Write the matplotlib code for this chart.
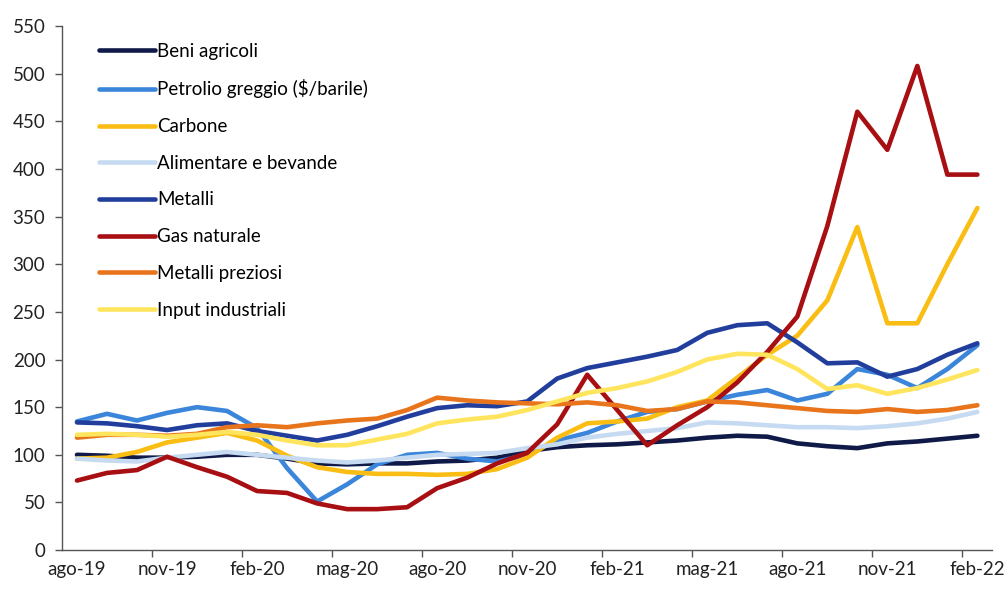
import matplotlib.pyplot as plt

plt.rcParams['font.family'] = ['Lato', 'DejaVu Sans']

# monthly categories ago-19 .. feb-22
months = ['ago-19', 'set-19', 'ott-19', 'nov-19', 'dic-19', 'gen-20', 'feb-20', 'mar-20',
          'apr-20', 'mag-20', 'giu-20', 'lug-20', 'ago-20', 'set-20', 'ott-20', 'nov-20',
          'dic-20', 'gen-21', 'feb-21', 'mar-21', 'apr-21', 'mag-21', 'giu-21', 'lug-21',
          'ago-21', 'set-21', 'ott-21', 'nov-21', 'dic-21', 'gen-22', 'feb-22']

beni_agricoli = [100, 99, 97, 97, 98, 100, 100, 96, 91, 90, 91, 91, 93, 94, 97, 104,
                 108, 110, 111, 113, 115, 118, 120, 119, 112, 109, 107, 112, 114, 117, 120]
petrolio = [135, 143, 136, 144, 150, 146, 128, 86, 51, 69, 90, 100, 102, 96, 93, 100,
            115, 123, 135, 145, 148, 156, 163, 168, 157, 164, 190, 184, 170, 190, 215]
carbone = [96, 97, 103, 113, 118, 123, 115, 99, 87, 82, 80, 80, 79, 80, 85, 97,
           118, 133, 135, 138, 150, 157, 181, 205, 225, 262, 339, 238, 238, 300, 359]
alimentare = [96, 94, 93, 97, 100, 103, 100, 97, 94, 92, 94, 97, 100, 101, 102, 107,
              111, 118, 122, 125, 128, 134, 133, 131, 129, 129, 128, 130, 133, 138, 145]
metalli = [134, 133, 130, 126, 131, 133, 125, 120, 115, 121, 130, 140, 149, 152, 151, 156,
           180, 191, 197, 203, 210, 228, 236, 238, 218, 196, 197, 182, 190, 205, 217]
gas = [73, 81, 84, 98, 87, 77, 62, 60, 49, 43, 43, 45, 65, 76, 91, 102,
       132, 184, 147, 110, 131, 150, 176, 208, 245, 340, 460, 420, 508, 394, 394]
metalli_preziosi = [118, 121, 121, 120, 122, 129, 131, 129, 133, 136, 138, 147, 160, 157, 155, 154,
                    153, 155, 152, 146, 148, 156, 155, 152, 149, 146, 145, 148, 145, 147, 152]
input_industriali = [121, 122, 121, 119, 121, 124, 121, 115, 110, 110, 116, 122, 133, 137, 140, 147,
                     156, 165, 170, 177, 187, 200, 206, 205, 190, 169, 173, 164, 170, 179, 189]

series = [
    ('Beni agricoli', beni_agricoli, '#101A48'),
    ('Petrolio greggio ($/barile)', petrolio, '#3B86DA'),
    ('Carbone', carbone, '#FABD14'),
    ('Alimentare e bevande', alimentare, '#C6DBF1'),
    ('Metalli', metalli, '#213E9C'),
    ('Gas naturale', gas, '#A80F12'),
    ('Metalli preziosi', metalli_preziosi, '#E8741C'),
    ('Input industriali', input_industriali, '#FFE55E'),
]

fig = plt.figure(figsize=(10.08, 5.89), dpi=100)
ax = fig.add_axes([0.0615, 0.066, 0.923, 0.89])

x = list(range(len(months)))
for name, vals, col in series:
    ax.plot(x, vals, color=col, linewidth=3.3, label=name, solid_capstyle='round')

ax.set_xlim(-0.5, len(months) - 0.5)
ax.set_ylim(0, 550)
ax.set_yticks(range(0, 551, 50))

# labels on every third month, tick marks between categories
ax.set_xticks(x[::3])
ax.set_xticklabels(months[::3])
ax.set_xticks([i + 2.5 for i in range(0, 28, 3)], minor=True)
ax.tick_params(axis='x', which='major', length=0, pad=8, labelsize=13.5, colors='#222222')
ax.tick_params(axis='x', which='minor', length=5, width=1, color='#555555', direction='out')
ax.tick_params(axis='y', length=5, width=1, color='#555555', labelsize=13.5, colors='#222222', pad=7)

for s in ['top', 'right']:
    ax.spines[s].set_visible(False)
for s in ['left', 'bottom']:
    ax.spines[s].set_color('#555555')
    ax.spines[s].set_linewidth(1)

leg = ax.legend(loc='upper left', bbox_to_anchor=(0.04, 0.968), frameon=False,
                fontsize=13.5, handlelength=3.0, handletextpad=0.1, labelspacing=1.05,
                borderpad=0, borderaxespad=0)

plt.savefig('out.png', dpi=100)
